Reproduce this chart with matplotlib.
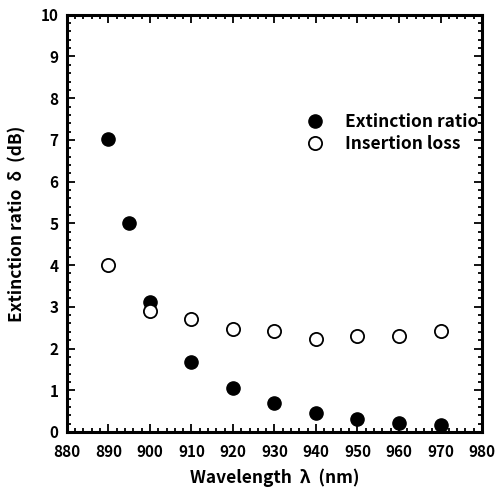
import matplotlib
matplotlib.use("Agg")
import matplotlib.pyplot as plt
from matplotlib.ticker import MultipleLocator

plt.rcParams['font.family'] = ['Noto Sans CJK JP', 'DejaVu Sans']
plt.rcParams['font.weight'] = 'bold'
plt.rcParams['axes.labelweight'] = 'bold'

# data
ext_wl = [890, 895, 900, 910, 920, 930, 940, 950, 960, 970]
ext_ratio = [7.03, 5.0, 3.12, 1.67, 1.05, 0.7, 0.45, 0.31, 0.21, 0.17]
ins_wl = [890, 900, 910, 920, 930, 940, 950, 960, 970]
ins_loss = [4.0, 2.9, 2.7, 2.48, 2.42, 2.23, 2.29, 2.3, 2.43]

fig = plt.figure(figsize=(4.99, 4.92), dpi=100)
ax = fig.add_axes([0.134, 0.122, 0.832, 0.848])

ax.plot(ext_wl, ext_ratio, 'o', color='black', markersize=9.5,
        label='Extinction ratio')
ax.plot(ins_wl, ins_loss, 'o', markerfacecolor='white', markeredgecolor='black',
        markeredgewidth=1.3, markersize=9.5, label='Insertion loss')

ax.set_xlim(880, 980)
ax.set_ylim(0, 10)
ax.xaxis.set_major_locator(MultipleLocator(10))
ax.xaxis.set_minor_locator(MultipleLocator(2))
ax.yaxis.set_major_locator(MultipleLocator(1))
ax.yaxis.set_minor_locator(MultipleLocator(0.2))
ax.tick_params(which='both', direction='in', top=True, right=True,
               labelsize=11, width=1.3)
ax.tick_params(which='major', length=6)
ax.tick_params(which='minor', length=3)
ax.tick_params(axis='x', pad=9)
ax.tick_params(axis='y', pad=6)
for s in ax.spines.values():
    s.set_linewidth(2.2)

ax.set_xlabel('Wavelength  λ  (nm)', fontsize=12.5, labelpad=6)
ax.set_ylabel('Extinction ratio  δ  (dB)', fontsize=12.5, labelpad=10)

ax.legend(loc='upper left', bbox_to_anchor=(0.535, 0.785), frameon=False,
          fontsize=12.5, handletextpad=0.7, labelspacing=0.25, borderpad=0)

fig.savefig('out.png', dpi=100)
